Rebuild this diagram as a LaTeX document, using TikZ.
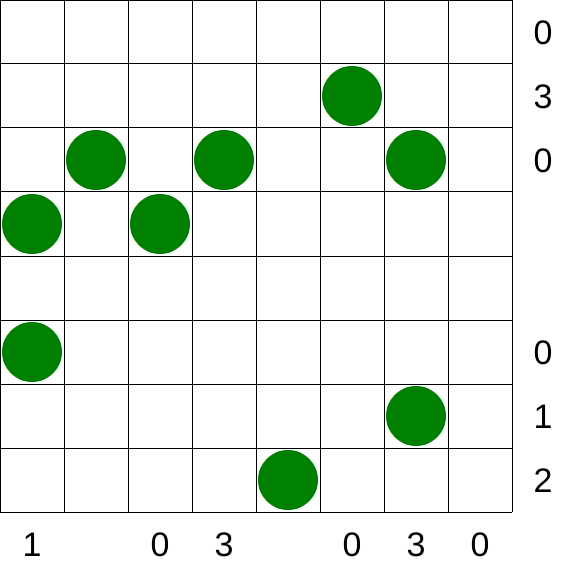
\documentclass[tikz,border=0pt]{standalone}
\usepackage{fontspec}
\setmainfont{Liberation Sans}
\definecolor{stone}{RGB}{0,128,0}
\begin{document}
\begin{tikzpicture}[x=1pt,y=-1pt,
  stone/.style={circle,fill=stone,draw=none,minimum size=60pt,inner sep=0pt},
  lab/.style={font=\fontsize{34}{34}\selectfont,inner sep=0pt,anchor=center},
  gridline/.style={line width=1pt,black}]
\useasboundingbox (0,0) rectangle (577,577);
\fill[white] (0,0) rectangle (577,577);
\foreach \i in {0,...,8} {
  \draw[gridline] (\i*64,0) -- (\i*64,512);
  \draw[gridline] (0,\i*64) -- (512,\i*64);
}
\draw[gridline] (0.5,0) -- (0.5,512);
\draw[gridline] (0,0.5) -- (512,0.5);
% stones (col,row)
\foreach \c/\r [count=\k] in {5/1,1/2,3/2,6/2,0/3,2/3,0/5,6/6,4/7}
  \node[stone] (s\k) at (\c*64+32,\r*64+32) {};
% right labels
\foreach \r/\t in {0/0,1/3,2/0,5/0,6/1,7/2}
  \node[lab] (r\r) at (543,\r*64+33) {\t};
% bottom labels
\foreach \c/\t in {0/1,2/0,3/3,5/0,6/3,7/0}
  \node[lab] (b\c) at (\c*64+32,545) {\t};
\end{tikzpicture}
\end{document}
